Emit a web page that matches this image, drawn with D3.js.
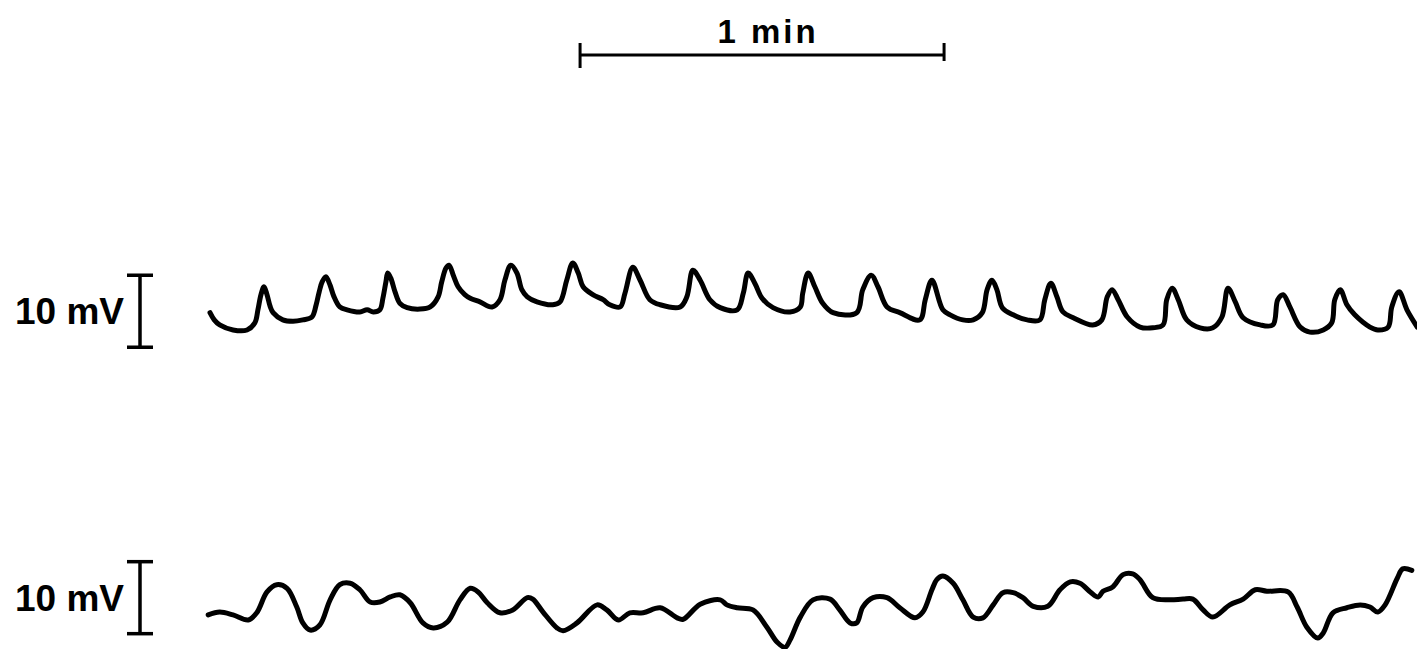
<!DOCTYPE html>
<html>
<head>
<meta charset="utf-8">
<script src="https://cdn.jsdelivr.net/npm/d3@7"></script>
<style>
  body { margin: 0; background: #fff; }
  svg { display: block; }
  text { font-family: "Liberation Sans", Arial, sans-serif; font-weight: bold; fill: #000; }
</style>
</head>
<body>
<div id="chart"></div>
<script>
// time in s, potential in mV (relative to each trace's baseline)
var topTime = [0,0.7,1.6,3.8,6.1,7.4,7.9,8.4,8.9,9.4,9.9,10.4,12.0,13.7,15.3,16.8,17.5,18.0,18.5,19.1,19.8,20.4,21.4,22.6,24.7,25.9,26.9,28.0,28.5,29.0,29.3,29.8,30.5,31.3,32.5,34.6,36.3,37.6,38.2,38.9,39.4,40.1,40.9,42.0,42.9,44.5,46.5,47.8,48.6,49.6,50.6,51.4,52.3,53.9,56.5,57.7,58.8,59.8,60.7,61.5,63.1,64.8,65.9,67.6,68.4,69.7,70.9,72.5,74.2,77.5,78.6,79.6,80.8,82.4,84.1,86.9,87.9,88.7,89.8,91.0,92.8,95.6,97.3,97.7,98.6,99.7,101.0,102.7,106.6,107.6,109.0,110.1,111.6,113.7,117.0,117.9,119.0,120.8,122.0,124.1,125.8,127.3,128.1,128.9,129.7,130.6,132.4,134.7,136.8,137.6,138.6,139.6,140.6,142.3,145.5,147.0,147.9,148.7,149.7,151.2,153.3,155.4,157.1,157.7,158.6,159.6,161.0,163.2,165.3,166.8,167.8,169.0,170.3,173.1,175.2,176.0,176.9,178.0,179.7,181.3,183.5,184.9,185.4,186.3,187.4,188.7,191.2,192.5,194.2,194.8,196.0,197.3,199.0];
var topVolt = [3.1,2.1,1.4,0.7,0.7,1.7,3.5,5.6,6.7,5.6,4.0,3.1,2.1,1.9,2.1,2.5,4.2,6.0,7.4,8.1,6.9,5.4,3.9,3.5,3.2,3.5,3.2,3.5,5.1,7.4,8.6,7.9,6.0,4.4,3.8,3.6,3.9,5.3,7.4,9.3,9.7,8.3,6.7,5.6,5.1,4.6,3.9,4.9,7.6,9.7,8.6,6.3,5.3,4.6,4.2,4.6,7.6,10.0,8.6,6.7,5.6,4.9,4.2,3.9,5.8,9.4,7.6,4.9,4.2,3.9,5.3,9.0,7.6,4.9,3.8,3.5,5.8,8.6,7.2,5.1,3.8,3.2,3.9,5.8,8.6,6.7,4.4,3.1,3.1,6.3,8.3,6.7,3.9,3.1,2.1,4.9,7.6,3.5,2.8,2.1,2.1,3.1,6.3,7.6,6.3,3.8,2.8,2.1,2.1,4.9,7.2,5.3,3.2,2.4,1.4,2.1,5.3,6.3,4.9,2.5,1.1,1.0,1.4,4.9,6.5,4.9,2.1,1.0,1.0,2.5,6.5,4.6,2.4,1.4,1.4,4.9,5.6,3.9,1.1,0.4,0.7,1.7,4.9,6.3,4.2,2.8,1.1,0.7,1.1,3.9,6.0,3.5,1.1];

var bottomTime = [-0.3,1.6,3.8,6.3,7.7,9.4,11.0,12.7,14.3,15.3,16.5,18.1,19.8,21.4,23.1,24.7,26.4,28.0,29.7,31.3,33.0,35.1,36.8,39.1,41.2,42.9,44.2,45.7,47.8,49.9,52.3,53.2,54.9,57.2,58.2,60.5,63.8,65.4,67.3,69.2,71.4,74.2,77.0,78.0,80.8,84.1,85.2,86.9,89.5,91.8,93.5,94.8,95.6,97.3,99.4,102.2,103.8,105.5,106.6,107.6,109.3,111.6,113.7,116.2,117.5,119.0,119.8,120.8,122.5,124.1,125.8,127.4,129.1,130.7,132.4,134.0,135.7,138.1,140.1,141.8,143.4,145.1,146.4,147.2,148.8,150.5,152.1,153.3,155.4,158.2,160.4,162.0,163.7,165.3,168.1,170.3,172.3,174.2,177.7,179.2,180.8,182.6,183.5,185.1,187.4,189.6,191.2,192.5,193.7,195.7,196.6,198.1];
var bottomVolt = [0.7,1.1,0.7,0,1.0,3.9,4.9,4.4,1.8,-0.4,-1.4,-0.7,2.8,4.9,5.1,4.2,2.5,2.5,3.2,3.5,2.4,-0.4,-1.1,-0.3,2.8,4.4,3.9,2.4,1.0,1.4,3.1,2.9,1.1,-1.1,-1.5,-0.4,2.1,1.4,0,1.0,1.0,1.7,0.3,0.1,2.2,2.8,2.1,1.7,1.4,-1.0,-3.1,-3.8,-2.8,0.4,2.8,2.9,1.4,-0.4,-0.4,1.8,3.1,3.1,1.7,0.3,1.1,4.2,5.6,6.1,5.1,2.8,0.4,0.3,2.1,3.8,3.8,3.1,1.9,1.9,4.2,5.3,5.1,3.9,3.2,4.0,4.6,6.3,6.4,5.6,3.1,2.8,2.9,2.9,1.4,0.4,2.1,2.9,4.2,4.0,3.9,1.8,-1.0,-2.5,-1.8,1.0,1.7,2.1,1.8,1.1,2.1,5.8,7.1,6.9];

// calibration bars
var timeBar = { start: 61, length: 60, label: "1 min" };
var voltBars = [{ from: -1.7, size: 10, label: "10 mV" }, { from: -1.9, size: 10, label: "10 mV" }];

var width = 1417, height = 649;
var svg = d3.select("#chart").append("svg").attr("width", width).attr("height", height);

var x = d3.scaleLinear().domain([0, 200]).range([210, 210 + 200 * 6.0667]);
var pxPerMv = 7.2;
var baselines = [335, 620];

var traces = [
  d3.zip(topTime, topVolt),
  d3.zip(bottomTime, bottomVolt)
];

traces.forEach(function(pts, i) {
  var y = d3.scaleLinear().domain([0, 10]).range([baselines[i], baselines[i] - 10 * pxPerMv]);
  var line = d3.line()
    .x(function(d) { return x(d[0]); })
    .y(function(d) { return y(d[1]); })
    .curve(d3.curveCatmullRom.alpha(0.5));
  svg.append("path")
    .datum(pts)
    .attr("d", line)
    .attr("fill", "none")
    .attr("stroke", "#000")
    .attr("stroke-width", 5)
    .attr("stroke-linejoin", "round")
    .attr("stroke-linecap", "round");

  // 10 mV bar
  var b = voltBars[i];
  var y0 = y(b.from), y1 = y(b.from + b.size), bx = 140;
  var g = svg.append("g").attr("stroke", "#000").attr("stroke-width", 3.5);
  g.append("line").attr("x1", bx).attr("x2", bx).attr("y1", y0).attr("y2", y1);
  g.append("line").attr("x1", bx - 13).attr("x2", bx + 13).attr("y1", y0).attr("y2", y0);
  g.append("line").attr("x1", bx - 13).attr("x2", bx + 13).attr("y1", y1).attr("y2", y1);
  svg.append("text")
    .attr("x", 124)
    .attr("y", (y0 + y1) / 2 + 13)
    .attr("text-anchor", "end")
    .attr("font-size", 37)
    .text(b.label);
});

// time bar
var tx0 = x(timeBar.start), tx1 = x(timeBar.start + timeBar.length);
var tg = svg.append("g").attr("stroke", "#000").attr("stroke-width", 3);
tg.append("line").attr("x1", tx0).attr("x2", tx1).attr("y1", 55).attr("y2", 55);
tg.append("line").attr("x1", tx0).attr("x2", tx0).attr("y1", 43).attr("y2", 68);
tg.append("line").attr("x1", tx1).attr("x2", tx1).attr("y1", 43).attr("y2", 61);
svg.append("text")
  .attr("x", (tx0 + tx1) / 2 + 6)
  .attr("y", 43)
  .attr("text-anchor", "middle")
  .attr("font-size", 33)
  .attr("letter-spacing", 3)
  .text(timeBar.label);
</script>
</body>
</html>
